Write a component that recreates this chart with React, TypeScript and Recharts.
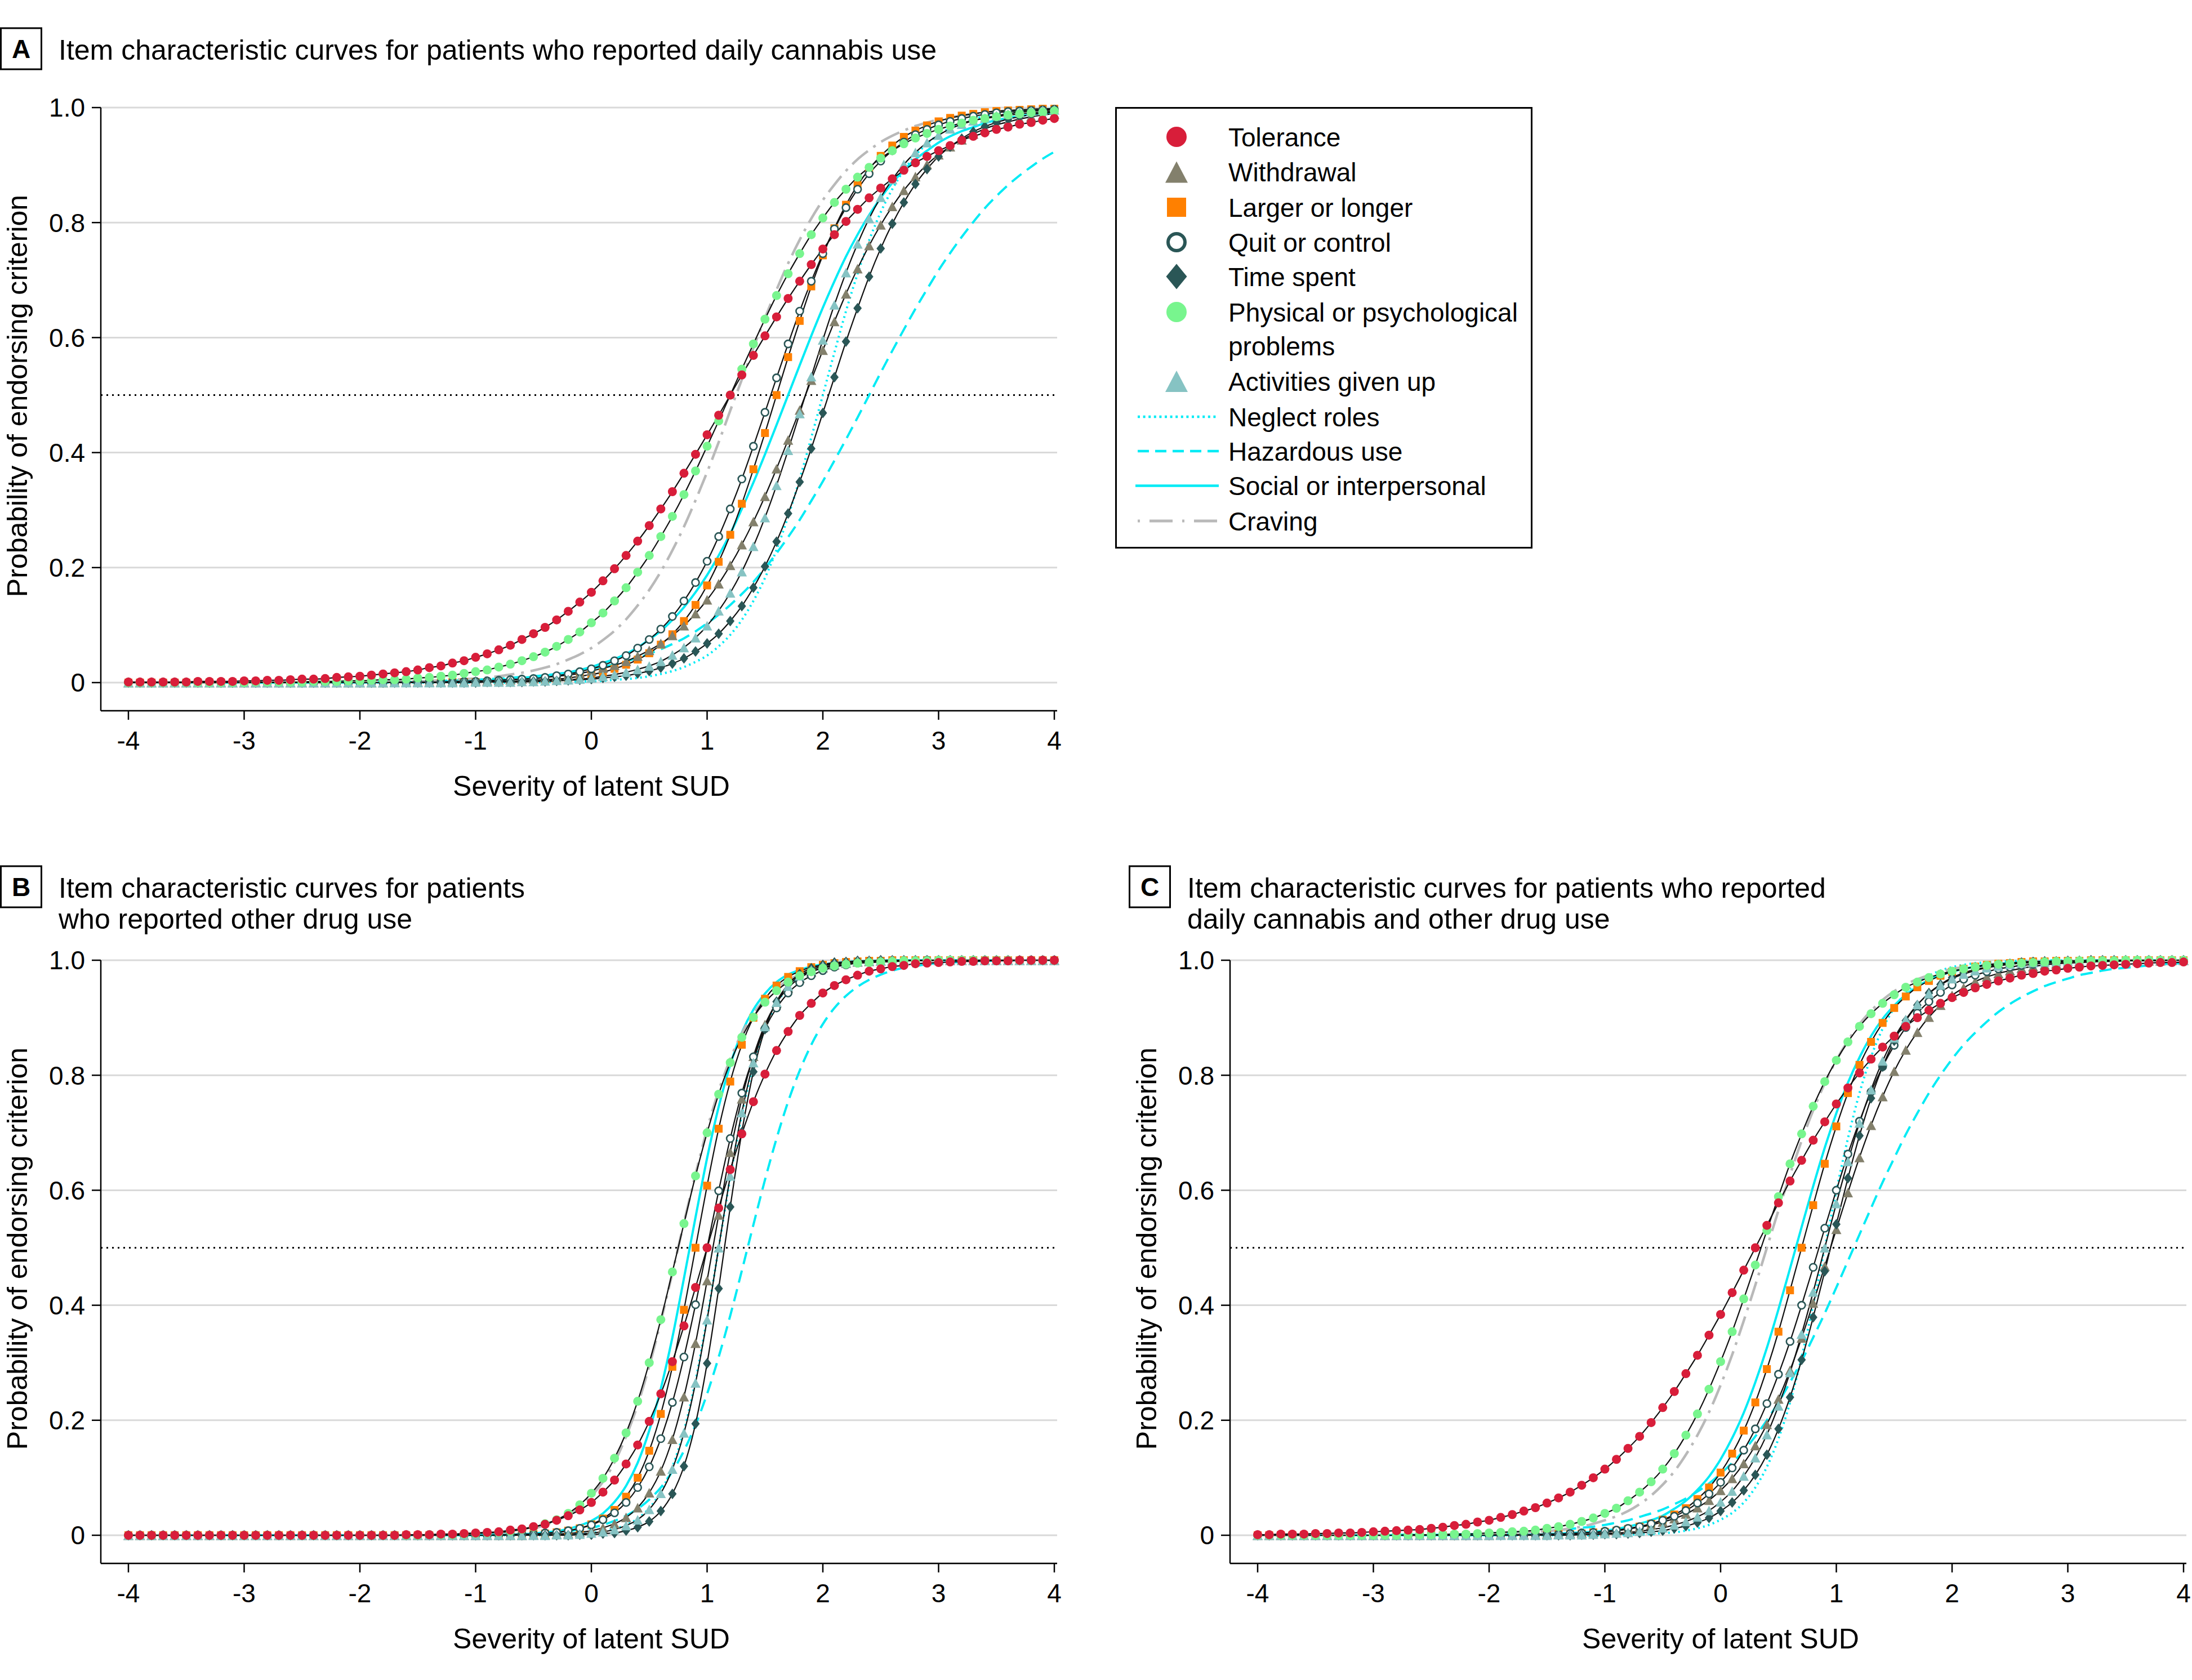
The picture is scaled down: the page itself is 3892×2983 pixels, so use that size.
import React from 'react';
import { LineChart, Line, XAxis, YAxis, CartesianGrid, ReferenceLine } from 'recharts';

const FONT = '"Liberation Sans", Arial, Helvetica, sans-serif';

// ---------- axes / labels ----------
const severity = [-4,-3.9,-3.8,-3.7,-3.6,-3.5,-3.4,-3.3,-3.2,-3.1,-3,-2.9,-2.8,-2.7,-2.6,-2.5,-2.4,-2.3,-2.2,-2.1,-2,-1.9,-1.8,-1.7,-1.6,-1.5,-1.4,-1.3,-1.2,-1.1,-1,-0.9,-0.8,-0.7,-0.6,-0.5,-0.4,-0.3,-0.2,-0.1,0,0.1,0.2,0.3,0.4,0.5,0.6,0.7,0.8,0.9,1,1.1,1.2,1.3,1.4,1.5,1.6,1.7,1.8,1.9,2,2.1,2.2,2.3,2.4,2.5,2.6,2.7,2.8,2.9,3,3.1,3.2,3.3,3.4,3.5,3.6,3.7,3.8,3.9,4];
const xTicks = [-4,-3,-2,-1,0,1,2,3,4];
const yTicks = [0,0.2,0.4,0.6,0.8,1];
const xAxisTitle = 'Severity of latent SUD';
const yAxisTitle = 'Probability of endorsing criterion';
const titleA = ['Item characteristic curves for patients who reported daily cannabis use'];
const titleB = ['Item characteristic curves for patients', 'who reported other drug use'];
const titleC = ['Item characteristic curves for patients who reported', 'daily cannabis and other drug use'];

// ---------- Panel A: daily cannabis use ----------
const aTolerance = [
.001,.001,.001,.001,.001,.001,.002,.002,.002,.002,
.003,.003,.004,.004,.005,.006,.006,.007,.009,.010,
.011,.013,.015,.017,.019,.022,.026,.029,.034,.038,
.044,.050,.057,.065,.075,.085,.096,.109,.124,.140,
.157,.177,.198,.221,.246,.273,.302,.332,.364,.397,
.431,.465,.5,.535,.569,.603,.636,.668,.698,.727,
.754,.779,.802,.823,.843,.860,.876,.891,.904,.915,
.925,.934,.943,.950,.956,.962,.966,.971,.974,.978,
.981];
const aWithdrawal = [
0,0,0,0,0,0,0,0,0,0,
0,0,0,0,0,0,0,0,0,0,
0,0,0,.001,.001,.001,.001,.001,.002,.002,
.003,.003,.004,.005,.006,.007,.009,.011,.013,.016,
.020,.025,.030,.037,.046,.056,.068,.082,.099,.120,
.144,.172,.204,.240,.280,.324,.372,.422,.474,.526,
.578,.628,.676,.720,.760,.796,.828,.856,.880,.901,
.918,.932,.944,.954,.963,.970,.975,.980,.984,.987,
.989];
const aLarger = [
0,0,0,0,0,0,0,0,0,0,
0,0,0,0,0,0,0,0,0,0,
0,0,0,0,0,0,0,0,.001,.001,
.001,.001,.002,.002,.003,.004,.005,.006,.008,.011,
.014,.018,.024,.031,.040,.051,.066,.084,.107,.135,
.169,.210,.257,.311,.371,.434,.5,.566,.629,.689,
.743,.790,.831,.865,.893,.916,.934,.949,.960,.969,
.976,.982,.986,.989,.992,.994,.995,.996,.997,.998,
.998];
const aQuit = [
0,0,0,0,0,0,0,0,0,0,
0,0,0,0,0,0,0,0,0,0,
0,0,0,0,0,.001,.001,.001,.001,.002,
.002,.003,.004,.005,.006,.007,.009,.012,.015,.019,
.024,.030,.038,.047,.060,.075,.093,.115,.142,.174,
.211,.254,.302,.354,.411,.470,.530,.589,.646,.698,
.746,.789,.826,.858,.885,.907,.925,.940,.953,.962,
.970,.976,.981,.985,.988,.991,.993,.994,.995,.996,
.997];
const aTime = [
0,0,0,0,0,0,0,0,0,0,
0,0,0,0,0,0,0,0,0,0,
0,0,0,0,0,0,0,0,0,0,
0,.001,.001,.001,.001,.002,.002,.003,.004,.005,
.006,.008,.010,.012,.016,.020,.026,.033,.042,.054,
.068,.085,.107,.133,.165,.202,.245,.294,.349,.407,
.469,.531,.593,.651,.706,.755,.798,.835,.867,.893,
.915,.932,.946,.958,.967,.974,.980,.984,.988,.990,
.992];
const aPhysical = [
0,0,0,0,0,0,0,0,0,0,
0,.001,.001,.001,.001,.001,.002,.002,.002,.003,
.003,.004,.005,.005,.006,.008,.009,.011,.013,.016,
.019,.022,.027,.032,.038,.045,.053,.063,.075,.088,
.104,.121,.142,.165,.192,.221,.254,.289,.327,.368,
.411,.455,.5,.545,.589,.632,.673,.711,.746,.779,
.808,.835,.858,.879,.896,.912,.925,.937,.947,.955,
.962,.968,.973,.978,.981,.984,.987,.989,.991,.992,
.994];
const aActivities = [
0,0,0,0,0,0,0,0,0,0,
0,0,0,0,0,0,0,0,0,0,
0,0,0,0,0,0,0,0,0,0,
.001,.001,.001,.001,.002,.002,.003,.004,.005,.006,
.008,.011,.014,.018,.023,.029,.037,.048,.061,.078,
.099,.125,.156,.193,.237,.287,.343,.404,.468,.532,
.596,.657,.713,.763,.807,.844,.875,.901,.922,.939,
.952,.963,.971,.977,.982,.986,.989,.992,.994,.995,
.996];
const aNeglect = [
0,0,0,0,0,0,0,0,0,0,
0,0,0,0,0,0,0,0,0,0,
0,0,0,0,0,0,0,0,0,0,
0,0,0,0,0,0,.001,.001,.001,.002,
.002,.003,.005,.006,.008,.011,.015,.020,.027,.036,
.047,.063,.083,.109,.142,.182,.231,.289,.354,.426,
.5,.574,.646,.711,.769,.818,.858,.891,.917,.937,
.953,.964,.973,.980,.985,.989,.992,.994,.995,.997,
.998];
const aHazardous = [
0,0,0,0,0,0,0,0,0,0,
0,0,0,0,0,0,0,.001,.001,.001,
.001,.001,.001,.002,.002,.002,.003,.003,.004,.004,
.005,.006,.007,.008,.010,.011,.013,.015,.018,.020,
.024,.028,.032,.037,.043,.050,.058,.067,.077,.089,
.103,.118,.135,.154,.175,.199,.225,.253,.283,.316,
.350,.386,.423,.461,.5,.539,.577,.614,.650,.684,
.717,.747,.775,.801,.825,.846,.865,.882,.897,.911,
.923];
const aSocial = [
0,0,0,0,0,0,0,0,0,0,
0,0,0,0,0,0,0,0,0,0,
0,0,.001,.001,.001,.001,.001,.002,.002,.003,
.003,.004,.005,.006,.008,.010,.012,.015,.018,.022,
.027,.034,.041,.050,.061,.075,.090,.109,.131,.157,
.187,.221,.259,.302,.348,.397,.448,.5,.552,.603,
.652,.698,.741,.779,.813,.843,.869,.891,.910,.925,
.939,.950,.959,.966,.973,.978,.982,.985,.988,.990,
.992];
const aCraving = [
0,0,0,0,0,0,0,0,0,0,
0,0,0,0,0,0,0,0,0,.001,
.001,.001,.001,.002,.002,.002,.003,.004,.005,.006,
.007,.009,.011,.014,.017,.021,.026,.032,.040,.049,
.060,.074,.090,.110,.134,.161,.193,.230,.271,.317,
.366,.418,.473,.527,.582,.634,.683,.729,.770,.807,
.839,.866,.890,.910,.926,.940,.951,.960,.968,.974,
.979,.983,.986,.989,.991,.993,.994,.995,.996,.997,
.998];

// ---------- Panel B: other drug use ----------
const bTolerance = [
0,0,0,0,0,0,0,0,0,0,
0,0,0,0,0,0,0,0,0,0,
0,0,0,0,.001,.001,.001,.002,.002,.003,
.004,.005,.006,.009,.011,.015,.019,.026,.034,.044,
.057,.075,.096,.124,.157,.198,.246,.302,.364,.431,
.5,.569,.636,.698,.754,.802,.843,.876,.904,.925,
.943,.956,.966,.974,.981,.985,.989,.991,.994,.995,
.996,.997,.998,.998,.999,.999,.999,1,1,1,
1];
const bWithdrawal = [
0,0,0,0,0,0,0,0,0,0,
0,0,0,0,0,0,0,0,0,0,
0,0,0,0,0,0,0,0,0,0,
0,0,0,0,0,.001,.001,.002,.003,.005,
.008,.013,.020,.031,.048,.074,.112,.167,.241,.334,
.443,.557,.666,.759,.833,.888,.926,.952,.969,.980,
.987,.992,.995,.997,.998,.999,.999,1,1,1,
1,1,1,1,1,1,1,1,1,1,
1];
const bLarger = [
0,0,0,0,0,0,0,0,0,0,
0,0,0,0,0,0,0,0,0,0,
0,0,0,0,0,0,0,0,0,0,
0,0,0,.001,.001,.002,.003,.005,.008,.012,
.019,.029,.044,.067,.100,.147,.211,.293,.392,.5,
.608,.707,.789,.853,.900,.933,.956,.971,.981,.988,
.992,.995,.997,.998,.999,.999,1,1,1,1,
1,1,1,1,1,1,1,1,1,1,
1];
const bQuit = [
0,0,0,0,0,0,0,0,0,0,
0,0,0,0,0,0,0,0,0,0,
0,0,0,0,0,0,0,0,0,0,
0,0,.001,.001,.002,.002,.004,.005,.008,.012,
.018,.027,.039,.057,.083,.119,.168,.231,.310,.401,
.5,.599,.690,.769,.832,.881,.917,.943,.961,.973,
.982,.988,.992,.995,.996,.998,.998,.999,.999,1,
1,1,1,1,1,1,1,1,1,1,
1];
const bTime = [
0,0,0,0,0,0,0,0,0,0,
0,0,0,0,0,0,0,0,0,0,
0,0,0,0,0,0,0,0,0,0,
0,0,0,0,0,0,0,0,0,.001,
.001,.003,.004,.008,.014,.024,.042,.072,.120,.194,
.299,.429,.571,.701,.806,.880,.928,.958,.976,.986,
.992,.996,.997,.999,.999,1,1,1,1,1,
1,1,1,1,1,1,1,1,1,1,
1];
const bPhysical = [
0,0,0,0,0,0,0,0,0,0,
0,0,0,0,0,0,0,0,0,0,
0,0,0,0,0,0,.001,.001,.001,.002,
.003,.004,.005,.007,.010,.014,.020,.027,.038,.053,
.073,.099,.134,.178,.233,.300,.375,.458,.542,.625,
.700,.767,.822,.866,.901,.927,.947,.962,.973,.980,
.986,.990,.993,.995,.996,.997,.998,.999,.999,.999,
1,1,1,1,1,1,1,1,1,1,
1];
const bActivities = [
0,0,0,0,0,0,0,0,0,0,
0,0,0,0,0,0,0,0,0,0,
0,0,0,0,0,0,0,0,0,0,
0,0,0,0,0,0,0,.001,.001,.002,
.004,.006,.010,.017,.027,.045,.073,.115,.178,.265,
.375,.5,.625,.735,.822,.885,.927,.955,.973,.983,
.990,.994,.996,.998,.999,.999,1,1,1,1,
1,1,1,1,1,1,1,1,1,1,
1];
const bNeglect = [
0,0,0,0,0,0,0,0,0,0,
0,0,0,0,0,0,0,0,0,0,
0,0,0,0,0,0,0,0,0,0,
0,0,0,0,0,0,0,.001,.002,.002,
.004,.007,.011,.018,.029,.047,.076,.119,.182,.269,
.378,.5,.622,.731,.818,.881,.924,.953,.971,.982,
.989,.993,.996,.998,.998,.999,1,1,1,1,
1,1,1,1,1,1,1,1,1,1,
1];
const bHazardous = [
0,0,0,0,0,0,0,0,0,0,
0,0,0,0,0,0,0,0,0,0,
0,0,0,0,0,0,0,0,0,0,
0,.001,.001,.001,.002,.003,.004,.005,.007,.010,
.013,.018,.025,.034,.046,.062,.083,.111,.147,.192,
.246,.310,.382,.460,.540,.618,.690,.754,.808,.853,
.889,.917,.938,.954,.966,.975,.982,.987,.990,.993,
.995,.996,.997,.998,.999,.999,.999,1,1,1,
1];
const bSocial = [
0,0,0,0,0,0,0,0,0,0,
0,0,0,0,0,0,0,0,0,0,
0,0,0,0,0,0,0,0,0,0,
0,0,.001,.001,.002,.003,.005,.007,.011,.017,
.025,.038,.058,.086,.126,.182,.255,.344,.447,.553,
.656,.745,.818,.874,.914,.942,.962,.975,.983,.989,
.993,.995,.997,.998,.999,.999,1,1,1,1,
1,1,1,1,1,1,1,1,1,1,
1];
const bCraving = [
0,0,0,0,0,0,0,0,0,0,
0,0,0,0,0,0,0,0,0,0,
0,0,0,0,0,0,0,.001,.001,.002,
.002,.003,.004,.006,.009,.012,.018,.025,.035,.049,
.068,.093,.127,.172,.227,.294,.372,.456,.544,.628,
.706,.773,.828,.873,.907,.932,.951,.965,.975,.982,
.988,.991,.994,.996,.997,.998,.998,.999,.999,1,
1,1,1,1,1,1,1,1,1,1,
1];

// ---------- Panel C: daily cannabis and other drug use ----------
const cTolerance = [
.001,.001,.002,.002,.002,.003,.003,.004,.004,.005,
.006,.007,.008,.009,.010,.012,.014,.017,.019,.023,
.026,.031,.036,.042,.048,.056,.065,.075,.087,.100,
.115,.132,.151,.172,.196,.222,.250,.281,.313,.348,
.384,.422,.461,.5,.539,.578,.616,.652,.687,.719,
.750,.778,.804,.828,.849,.868,.885,.900,.913,.925,
.935,.944,.952,.958,.964,.969,.974,.977,.981,.983,
.986,.988,.990,.991,.992,.993,.994,.995,.996,.996,
.997];
const cWithdrawal = [
0,0,0,0,0,0,0,0,0,0,
0,0,0,0,0,0,0,0,0,0,
0,.001,.001,.001,.001,.002,.002,.003,.004,.005,
.006,.008,.011,.014,.018,.023,.029,.037,.048,.061,
.078,.099,.125,.156,.193,.237,.287,.343,.404,.468,
.532,.596,.657,.713,.763,.807,.844,.875,.901,.922,
.939,.952,.963,.971,.977,.982,.986,.989,.992,.994,
.995,.996,.997,.998,.998,.999,.999,.999,.999,1,
1];
const cLarger = [
0,0,0,0,0,0,0,0,0,0,
0,0,0,0,0,0,0,0,0,0,
0,0,0,.001,.001,.001,.002,.002,.003,.005,
.006,.008,.011,.015,.020,.027,.036,.047,.063,.083,
.109,.142,.182,.231,.289,.354,.426,.5,.574,.646,
.711,.769,.818,.858,.891,.917,.937,.953,.964,.973,
.980,.985,.989,.992,.994,.995,.997,.998,.998,.999,
.999,.999,1,1,1,1,1,1,1,1,
1];
const cQuit = [
0,0,0,0,0,0,0,0,0,0,
0,0,0,0,0,0,0,0,0,0,
0,.001,.001,.001,.001,.002,.002,.003,.004,.005,
.007,.009,.012,.015,.020,.026,.033,.043,.056,.072,
.092,.117,.148,.185,.229,.280,.337,.400,.466,.534,
.600,.663,.720,.771,.815,.852,.883,.908,.928,.944,
.957,.967,.974,.980,.985,.988,.991,.993,.995,.996,
.997,.998,.998,.999,.999,.999,.999,1,1,1,
1];
const cTime = [
0,0,0,0,0,0,0,0,0,0,
0,0,0,0,0,0,0,0,0,0,
0,0,0,0,0,0,0,0,.001,.001,
.002,.002,.003,.004,.006,.008,.012,.016,.022,.030,
.042,.057,.078,.105,.140,.185,.240,.305,.379,.459,
.541,.621,.695,.760,.815,.860,.895,.922,.943,.958,
.970,.978,.984,.988,.992,.994,.996,.997,.998,.998,
.999,.999,1,1,1,1,1,1,1,1,
1];
const cPhysical = [
0,0,0,0,0,0,0,0,0,0,
0,0,0,.001,.001,.001,.001,.002,.002,.003,
.004,.005,.006,.007,.009,.012,.015,.019,.024,.030,
.038,.047,.060,.075,.093,.115,.142,.174,.211,.254,
.302,.354,.411,.470,.530,.589,.646,.698,.746,.789,
.826,.858,.885,.907,.925,.940,.953,.962,.970,.976,
.981,.985,.988,.991,.993,.994,.995,.996,.997,.998,
.998,.999,.999,.999,.999,1,1,1,1,1,
1];
const cActivities = [
0,0,0,0,0,0,0,0,0,0,
0,0,0,0,0,0,0,0,0,0,
0,0,0,0,0,0,.001,.001,.001,.002,
.003,.004,.005,.007,.010,.013,.018,.024,.032,.043,
.058,.077,.103,.135,.175,.225,.283,.350,.423,.5,
.577,.650,.717,.775,.825,.865,.897,.923,.942,.957,
.968,.976,.982,.987,.990,.993,.995,.996,.997,.998,
.999,.999,.999,1,1,1,1,1,1,1,
1];
const cNeglect = [
0,0,0,0,0,0,0,0,0,0,
0,0,0,0,0,0,0,0,0,0,
0,0,0,0,0,0,0,0,0,0,
0,.001,.001,.002,.002,.004,.005,.008,.012,.018,
.027,.039,.057,.083,.119,.168,.231,.310,.401,.5,
.599,.690,.769,.832,.881,.917,.943,.961,.973,.982,
.988,.992,.995,.996,.998,.998,.999,.999,1,1,
1,1,1,1,1,1,1,1,1,1,
1];
const cHazardous = [
0,0,0,0,0,0,0,0,0,0,
0,.001,.001,.001,.001,.001,.001,.002,.002,.002,
.003,.004,.004,.005,.006,.007,.009,.011,.013,.015,
.018,.022,.026,.032,.038,.045,.054,.064,.076,.090,
.107,.126,.147,.172,.200,.231,.266,.303,.344,.386,
.431,.477,.523,.569,.614,.656,.697,.734,.769,.800,
.828,.853,.874,.893,.910,.924,.936,.946,.955,.962,
.968,.974,.978,.982,.985,.987,.989,.991,.993,.994,
.995];
const cSocial = [
0,0,0,0,0,0,0,0,0,0,
0,0,0,0,0,0,0,0,0,0,
0,0,.001,.001,.001,.002,.003,.004,.005,.006,
.008,.011,.015,.020,.026,.034,.046,.060,.079,.102,
.132,.169,.213,.266,.326,.393,.464,.536,.607,.674,
.734,.787,.831,.868,.898,.921,.940,.954,.966,.974,
.980,.985,.989,.992,.994,.995,.996,.997,.998,.999,
.999,.999,1,1,1,1,1,1,1,1,
1];
const cCraving = [
0,0,0,0,0,0,0,0,0,0,
0,0,0,0,0,0,.001,.001,.001,.002,
.002,.003,.003,.004,.006,.007,.009,.012,.015,.020,
.026,.033,.042,.054,.069,.088,.111,.140,.174,.214,
.261,.314,.373,.435,.5,.565,.627,.686,.739,.786,
.826,.860,.889,.912,.931,.946,.958,.967,.974,.980,
.985,.988,.991,.993,.994,.996,.997,.997,.998,.998,
.999,.999,.999,.999,1,1,1,1,1,1,
1];

// ---------- styles ----------
const RED = '#d81e3a';
const OLIVE = '#83806c';
const ORANGE = '#ff8000';
const DARK = '#2a5656';
const GREEN = '#78f58e';
const TEAL = '#86c3c3';
const CYAN = '#00ebf5';
const GREY = '#b9b9b9';

type Series = {
  key: string;
  label: string[];
  kind: 'marker' | 'line';
  shape?: string;
  fill?: string;
  stroke?: string;
  dash?: string;
  width?: number;
};

// render order (bottom -> top)
const SERIES: Series[] = [
  { key: 'neglect', label: ['Neglect roles'], kind: 'line', stroke: CYAN, dash: '3 6', width: 4 },
  { key: 'hazardous', label: ['Hazardous use'], kind: 'line', stroke: CYAN, dash: '22 12', width: 4 },
  { key: 'social', label: ['Social or interpersonal'], kind: 'line', stroke: CYAN, width: 4 },
  { key: 'craving', label: ['Craving'], kind: 'line', stroke: GREY, dash: '36 12 5 12', width: 4.5 },
  { key: 'larger', label: ['Larger or longer'], kind: 'marker', shape: 'square', fill: ORANGE },
  { key: 'withdrawal', label: ['Withdrawal'], kind: 'marker', shape: 'triangle', fill: OLIVE },
  { key: 'quit', label: ['Quit or control'], kind: 'marker', shape: 'ring', fill: '#ffffff', stroke: DARK },
  { key: 'time', label: ['Time spent'], kind: 'marker', shape: 'diamond', fill: DARK },
  { key: 'activities', label: ['Activities given up'], kind: 'marker', shape: 'triangle', fill: TEAL },
  { key: 'physical', label: ['Physical or psychological', 'problems'], kind: 'marker', shape: 'circle', fill: GREEN },
  { key: 'tolerance', label: ['Tolerance'], kind: 'marker', shape: 'circle', fill: RED },
];

const LEGEND_ORDER = ['tolerance', 'withdrawal', 'larger', 'quit', 'time', 'physical', 'activities', 'neglect', 'hazardous', 'social', 'craving'];
const LEGEND_ROW_Y = [243, 305.5, 368, 430, 491, 554, 677, 740, 801, 862.5, 925];

const panelA = { tolerance: aTolerance, withdrawal: aWithdrawal, larger: aLarger, quit: aQuit, time: aTime, physical: aPhysical, activities: aActivities, neglect: aNeglect, hazardous: aHazardous, social: aSocial, craving: aCraving };
const panelB = { tolerance: bTolerance, withdrawal: bWithdrawal, larger: bLarger, quit: bQuit, time: bTime, physical: bPhysical, activities: bActivities, neglect: bNeglect, hazardous: bHazardous, social: bSocial, craving: bCraving };
const panelC = { tolerance: cTolerance, withdrawal: cWithdrawal, larger: cLarger, quit: cQuit, time: cTime, physical: cPhysical, activities: cActivities, neglect: cNeglect, hazardous: cHazardous, social: cSocial, craving: cCraving };

const buildRows = (p: Record<string, number[]>) =>
  severity.map((x, i) => {
    const row: Record<string, number> = { x };
    Object.keys(p).forEach((k) => { row[k] = p[k][i]; });
    return row;
  });

const rowsA = buildRows(panelA);
const rowsB = buildRows(panelB);
const rowsC = buildRows(panelC);

// ---------- marker shapes ----------
function Marker({ shape, cx, cy, fill, stroke, big }: any) {
  if (shape === 'circle') return <circle cx={cx} cy={cy} r={big ? 18 : 8} fill={fill} />;
  if (shape === 'ring') return <circle cx={cx} cy={cy} r={big ? 15 : 6.5} fill="#ffffff" stroke={stroke} strokeWidth={big ? 6 : 2.6} />;
  if (shape === 'square') {
    const s = big ? 17 : 7;
    return <rect x={cx - s} y={cy - s} width={2 * s} height={2 * s} fill={fill} />;
  }
  if (shape === 'triangle') {
    const w = big ? 40 : 18;
    const h = big ? 38 : 17;
    return <polygon points={`${cx},${cy - h / 2} ${cx - w / 2},${cy + h / 2} ${cx + w / 2},${cy + h / 2}`} fill={fill} />;
  }
  if (shape === 'diamond') {
    const w = big ? 37 : 15;
    const h = big ? 45 : 19;
    return <polygon points={`${cx},${cy - h / 2} ${cx + w / 2},${cy} ${cx},${cy + h / 2} ${cx - w / 2},${cy}`} fill={fill} />;
  }
  return null;
}

const CHART_W = 1890;
const CHART_H = 1440;

function Panel({ rows, left, top }: { rows: any[]; left: number; top: number }) {
  return (
    <div style={{ position: 'absolute', left, top, width: CHART_W, height: CHART_H }}>
      <LineChart width={CHART_W} height={CHART_H} data={rows} margin={{ top: 191, right: 13, bottom: 0, left: 0 }}>
        <CartesianGrid vertical={false} stroke="#d9d9d9" strokeWidth={3} />
        <XAxis
          type="number"
          dataKey="x"
          domain={[-4, 4]}
          ticks={xTicks}
          interval={0}
          padding={{ left: 49, right: 5 }}
          height={178}
          tickSize={16}
          tickMargin={20}
          axisLine={{ stroke: '#000', strokeWidth: 2.5 }}
          tickLine={{ stroke: '#000', strokeWidth: 2.5 }}
          tick={{ fill: '#000', fontSize: 46, fontFamily: FONT }}
          tickFormatter={(v: number) => String(v)}
        />
        <YAxis
          type="number"
          domain={[0, 1]}
          ticks={yTicks}
          interval={0}
          padding={{ top: 0, bottom: 50 }}
          width={179}
          tickSize={16}
          tickMargin={12}
          axisLine={{ stroke: '#000', strokeWidth: 2.5 }}
          tickLine={{ stroke: '#000', strokeWidth: 2.5 }}
          tick={{ fill: '#000', fontSize: 46, fontFamily: FONT }}
          tickFormatter={(v: number) => (v === 0 ? '0' : v.toFixed(1))}
        />
        <ReferenceLine y={0.5} stroke="#000" strokeWidth={3} strokeDasharray="3 7" />
        {SERIES.map((s) =>
          s.kind === 'line' ? (
            <Line
              key={s.key}
              type="monotone"
              dataKey={s.key}
              stroke={s.stroke}
              strokeWidth={s.width}
              strokeDasharray={s.dash}
              dot={false}
              activeDot={false}
              isAnimationActive={false}
            />
          ) : (
            <Line
              key={s.key}
              type="monotone"
              dataKey={s.key}
              stroke="#111111"
              strokeWidth={2.2}
              activeDot={false}
              isAnimationActive={false}
              dot={(p: any) =>
                p.cx == null || p.cy == null ? (
                  <g key={`${s.key}-${p.index}`} />
                ) : (
                  <Marker key={`${s.key}-${p.index}`} shape={s.shape} cx={p.cx} cy={p.cy} fill={s.fill} stroke={s.stroke} />
                )
              }
            />
          )
        )}
      </LineChart>
    </div>
  );
}

function PanelTitle({ letter, lines, x, boxY }: { letter: string; lines: string[]; x: number; boxY: number }) {
  return (
    <g>
      <rect x={x + 1.5} y={boxY} width={72} height={73} fill="#fff" stroke="#000" strokeWidth={3} />
      <text x={x + 37.5} y={boxY + 53} textAnchor="middle" fontSize={46} fontWeight="bold" fill="#000">{letter}</text>
      {lines.map((l, i) => (
        <text key={i} x={x + 104} y={boxY + 56 + i * 55} fontSize={50} fill="#000">{l}</text>
      ))}
    </g>
  );
}

function AxisTitles({ dx, dy }: { dx: number; dy: number }) {
  return (
    <g>
      <text x={dx + 1050} y={dy + 1413} textAnchor="middle" fontSize={50} fill="#000">{xAxisTitle}</text>
      <text
        x={dx + 31}
        y={dy + 703}
        transform={`rotate(-90 ${dx + 31} ${dy + 703})`}
        textAnchor="middle"
        dominantBaseline="central"
        fontSize={50}
        fill="#000"
      >
        {yAxisTitle}
      </text>
    </g>
  );
}

function LegendBox() {
  const mx = 2089;
  return (
    <g>
      <rect x={1981.5} y={191.5} width={738} height={781} fill="#fff" stroke="#000" strokeWidth={3} />
      {LEGEND_ORDER.map((key, i) => {
        const s = SERIES.find((q) => q.key === key)!;
        const cy = LEGEND_ROW_Y[i];
        return (
          <g key={key}>
            {s.kind === 'marker' ? (
              <Marker shape={s.shape} cx={mx} cy={cy} fill={s.fill} stroke={s.stroke} big />
            ) : (
              <line
                x1={key === 'social' ? 2016 : 2020}
                x2={2164}
                y1={cy}
                y2={cy}
                stroke={s.stroke}
                strokeWidth={key === 'craving' ? 5 : 4.5}
                strokeDasharray={key === 'neglect' ? '4 5.6' : key === 'hazardous' ? '20 11' : key === 'craving' ? '4 17 41 17' : undefined}
              />
            )}
            {s.label.map((l, j) => (
              <text key={j} x={2181} y={cy + 16.5 + j * 60} fontSize={46} fill="#000">{l}</text>
            ))}
          </g>
        );
      })}
    </g>
  );
}

export default function App() {
  return (
    <div style={{ position: 'absolute', left: 0, top: 0, width: 3892, height: 2983, overflow: 'hidden', background: '#fff', fontFamily: FONT }}>
      <Panel rows={rowsA} left={0} top={0} />
      <Panel rows={rowsB} left={0} top={1514} />
      <Panel rows={rowsC} left={2005} top={1514} />
      <svg width={3892} height={2983} style={{ position: 'absolute', left: 0, top: 0, pointerEvents: 'none' }} fontFamily={FONT}>
        <PanelTitle letter="A" lines={titleA} x={0} boxY={50} />
        <PanelTitle letter="B" lines={titleB} x={0} boxY={1538} />
        <PanelTitle letter="C" lines={titleC} x={2004} boxY={1538} />
        <AxisTitles dx={0} dy={0} />
        <AxisTitles dx={0} dy={1514} />
        <AxisTitles dx={2005} dy={1514} />
        <LegendBox />
      </svg>
    </div>
  );
}
